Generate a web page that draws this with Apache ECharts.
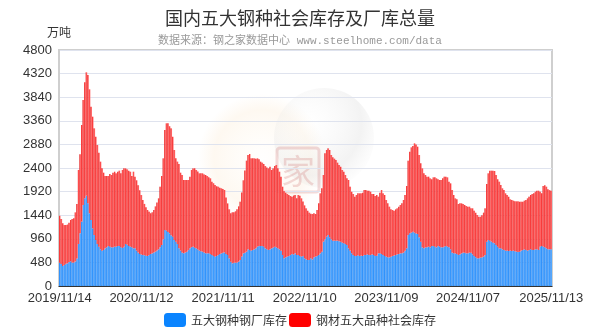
<!DOCTYPE html>
<html><head><meta charset="utf-8">
<script src="https://cdn.jsdelivr.net/npm/echarts@6/dist/echarts.min.js"></script>
<style>html,body{margin:0;padding:0;background:#fff}#c{width:600px;height:336px}</style>
</head><body><div id="c"></div>
<script>
// 五大钢种钢厂库存（万吨），周度
const millStock = [475,447,407,427,454,461,488,502,475,480,500,560,854,1071,1309,1648,1783,1837,1681,1478,1342,1173,1037,936,854,800,746,719,732,766,786,813,800,786,786,800,800,813,813,786,773,800,854,840,813,800,786,766,766,719,680,650,640,
630,625,615,610,630,651,664,680,698,720,746,790,834,950,1139,1125,1100,1071,1030,1003,936,900,854,766,720,678,664,680,698,730,766,790,800,780,766,740,719,705,698,680,664,664,664,650,630,610,597,610,630,651,664,678,685,
650,630,563,495,461,475,475,480,495,529,600,664,678,698,746,732,719,732,746,766,800,813,813,813,800,766,746,732,746,766,780,800,786,766,746,719,630,563,583,597,610,630,651,640,664,630,630,610,597,610,563,542,529,
529,563,542,583,597,610,630,664,698,902,949,1003,1037,990,949,922,922,922,922,910,902,881,868,854,834,766,719,664,630,610,610,624,610,617,610,630,630,644,630,630,644,630,610,617,664,664,651,630,610,597,583,583,
597,610,620,630,644,651,664,664,678,719,766,1037,1071,1085,1105,1085,1070,1058,990,902,786,766,786,786,800,786,813,813,800,786,813,800,786,786,800,813,800,786,746,678,664,664,651,630,644,664,678,678,664,664,678,678,
644,610,583,563,563,576,583,597,630,902,936,922,902,880,868,834,800,766,766,746,732,719,719,712,719,712,719,705,698,692,698,720,732,746,732,719,732,746,732,732,746,746,732,800,813,800,786,766,746,746,746];

// 钢材五大品种社会库存（万吨），周度
const socialStock = [955,916,868,813,786,789,800,840,888,900,998,1108,1506,1607,1966,2135,2360,2509,2611,2522,2306,2271,2170,2101,2014,1912,1783,1674,1573,1471,1451,1424,1478,1472,1519,1525,1492,1512,1533,1506,1587,1593,1539,1533,1533,1525,1451,1559,1458,1431,1370,1300,1210,
1120,1045,985,936,882,827,836,866,922,980,1037,1230,1403,1647,2034,2184,2209,2179,2177,2034,1830,1697,1676,1715,1585,1580,1492,1476,1458,1426,1458,1570,1593,1613,1594,1590,1573,1587,1594,1590,1594,1573,1546,1540,1492,1480,1457,1420,1390,1349,1323,1295,1268,
1150,1050,997,983,1039,1025,1045,1080,1125,1186,1300,1486,1672,1852,1919,1953,1878,1868,1851,1824,1797,1763,1716,1696,1680,1674,1664,1661,1681,1594,1613,1641,1675,1627,1579,1505,1390,1367,1315,1274,1241,1201,1166,1200,1187,1153,1221,1227,1186,1110,1077,1038,1003,
963,907,922,895,867,936,1051,1221,1289,1356,1749,1763,1763,1776,1716,1695,1668,1641,1587,1551,1525,1479,1457,1404,1356,1390,1301,1255,1241,1207,1241,1261,1275,1268,1288,1323,1323,1295,1309,1289,1227,1241,1221,1234,1153,1234,1302,1255,1241,1152,1098,1031,
963,936,912,929,936,963,984,1017,1071,1132,1268,1512,1661,1735,1743,1817,1810,1776,1675,1593,1607,1526,1472,1438,1424,1404,1357,1397,1410,1404,1357,1356,1370,1404,1424,1411,1410,1336,1342,1275,1187,1119,1112,1038,1037,1017,990,970,963,950,936,902,
936,922,909,881,847,834,857,895,950,1173,1356,1424,1444,1466,1471,1424,1370,1356,1288,1241,1221,1166,1132,1105,1044,1037,1017,1017,1024,1030,1017,995,983,990,1017,1064,1085,1105,1139,1153,1173,1193,1207,1119,1072,1234,1262,1254,1220,1204,1193];

// 周度日期（每周四）
const startDate = '2019/11/14';
const weekCount = 314;
const categories = [];
(function(){
  const p = startDate.split('/').map(Number);
  const t0 = Date.UTC(p[0], p[1]-1, p[2]);
  for (let i = 0; i < weekCount; i++) {
    const d = new Date(t0 + i*7*86400000);
    const mm = String(d.getUTCMonth()+1).padStart(2,'0');
    const dd = String(d.getUTCDate()).padStart(2,'0');
    categories.push(d.getUTCFullYear() + '/' + mm + '/' + dd);
  }
})();

const tickLabels = ['2019/11/14','2020/11/12','2021/11/11','2022/11/10','2023/11/09','2024/11/07','2025/11/13'];
const yTicks = [0,480,960,1440,1920,2400,2880,3360,3840,4320,4800];

const seriesNames = ['五大钢种钢厂库存','钢材五大品种社会库存'];
const FONT = '"Liberation Sans", Arial, "Noto Sans CJK SC", sans-serif';

const chart = echarts.init(document.getElementById('c'), null, {renderer:'canvas'});
const grad = (a,b,c) => new echarts.graphic.LinearGradient(0,0,1,0,[{offset:0,color:a},{offset:0.4,color:b},{offset:1,color:c}]);

chart.setOption({
  animation: false,
  backgroundColor: '#fff',
  title: {
    text: '国内五大钢种社会库存及厂库总量',
    subtext: '数据来源：钢之家数据中心 www.steelhome.com/data',
    left: 'center', top: 4, itemGap: 9,
    textStyle: {fontSize: 18, fontWeight: 'normal', color: '#333', fontFamily: '"Noto Sans CJK SC", sans-serif'},
    subtextStyle: {fontSize: 11, color: '#999', fontFamily: '"Liberation Mono", "Noto Sans CJK SC", monospace'}
  },
  legend: {
    bottom: 4, left: 'center', itemGap: 2, itemWidth: 22, itemHeight: 14,
    textStyle: {fontSize: 12, color: '#333', fontFamily: '"Noto Sans CJK SC", sans-serif'},
    data: [
      {name: seriesNames[0], icon: 'roundRect', itemStyle: {color: '#0a84ff'}},
      {name: seriesNames[1], icon: 'roundRect', itemStyle: {color: '#ff0000'}}
    ]
  },
  grid: {left: 59, right: 48, top: 50, bottom: 50, show: true, borderColor: '#cfcfcf', borderWidth: 2, backgroundColor: 'transparent'},
  xAxis: {
    type: 'category', data: categories, boundaryGap: true,
    axisLine: {lineStyle: {color: '#333', width: 1}},
    axisTick: {alignWithLabel: true, length: 5, lineStyle: {color: '#222'}, interval: (i, v) => tickLabels.includes(v)},
    axisLabel: {interval: (i, v) => tickLabels.includes(v), fontSize: 13, color: '#333', margin: 6, fontFamily: FONT, hideOverlap: false},
    splitLine: {show: false}
  },
  yAxis: {
    type: 'value', min: yTicks[0], max: yTicks[yTicks.length-1], interval: 480,
    name: '万吨', nameGap: 12,
    nameTextStyle: {fontSize: 12, color: '#333', fontFamily: '"Noto Sans CJK SC", sans-serif'},
    axisLine: {show: true, lineStyle: {color: '#cfcfcf', width: 2}},
    axisTick: {show: false},
    axisLabel: {fontSize: 13, color: '#333', margin: 7, fontFamily: FONT, formatter: v => String(v)},
    splitLine: {lineStyle: {color: '#dfe3ee', width: 1}}
  },
  series: [
    {name: seriesNames[0], type: 'bar', stack: 'total', data: millStock, barCategoryGap: '0%',
     itemStyle: {color: grad('#0a6fe8','#3b9bff','#6cb6ff')}},
    {name: seriesNames[1], type: 'bar', stack: 'total', data: socialStock, barCategoryGap: '0%',
     itemStyle: {color: grad('#dd0000','#ff4a4a','#ff8080')}}
  ],
  graphic: [
    {type: 'group', z: 100, silent: true, children: [
      {type: 'circle', shape: {cx: 262, cy: 158, r: 64}, style: {fill: new echarts.graphic.RadialGradient(0.5,0.5,0.5,[{offset:0,color:'rgba(255,240,215,0.03)'},{offset:0.75,color:'rgba(250,225,190,0.22)'},{offset:1,color:'rgba(250,225,190,0)'}])}},
      {type: 'circle', shape: {cx: 324, cy: 138, r: 50}, style: {fill: new echarts.graphic.RadialGradient(0.35,0.35,0.75,[{offset:0,color:'rgba(255,255,255,0.15)'},{offset:0.7,color:'rgba(215,215,215,0.3)'},{offset:1,color:'rgba(225,225,225,0)'}])}},
      {type: 'rect', shape: {x: 277, y: 148, width: 42, height: 44, r: 3}, style: {fill: 'rgba(255,255,255,0.1)', stroke: 'rgba(200,90,90,0.22)', lineWidth: 3}},
      {type: 'text', style: {x: 298, y: 171, text: '家', fontSize: 34, fill: 'rgba(200,90,90,0.22)', align: 'center', verticalAlign: 'middle', fontFamily: '"Noto Sans CJK SC"'}}
    ]}
  ]
});
</script>
</body></html>
